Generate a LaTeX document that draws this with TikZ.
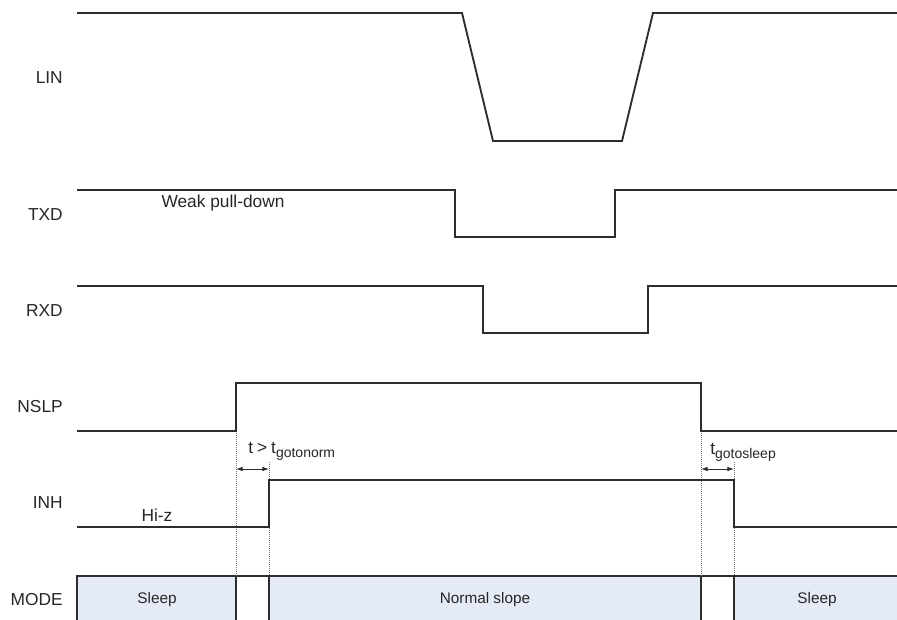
\documentclass[tikz,border=0pt]{standalone}
\usepackage{fontspec}
\setmainfont{Liberation Sans}
\usetikzlibrary{arrows.meta}
\definecolor{modefill}{RGB}{228,235,246}
\definecolor{wire}{RGB}{45,45,45}
\begin{document}
\begin{tikzpicture}[x=0.75pt,y=-0.75pt,
  sig/.style={draw=wire,line width=1.4pt,line join=miter},
  boxline/.style={draw=wire,line width=0.9pt},
  lbl/.style={anchor=east,inner sep=0pt,font=\fontsize{13}{15}\selectfont,text=black!85},
  note/.style={inner sep=0pt,font=\fontsize{13}{15}\selectfont,text=black!85},
  modetxt/.style={inner sep=0pt,font=\fontsize{11.5}{14}\selectfont,text=black!85},
  guide/.style={draw=black!55,densely dotted,line width=0.5pt},
  dimarrow/.style={{Latex[length=5pt,width=3.5pt]}-{Latex[length=5pt,width=3.5pt]},draw=wire,line width=0.7pt}]
\useasboundingbox (0,0) rectangle (897,620);

% MODE row
\fill[modefill] (77,576) rectangle (236,621);
\fill[modefill] (269,576) rectangle (701,621);
\fill[modefill] (734,576) rectangle (898,621);
\draw[boxline] (77,621) -- (77,576) -- (898,576);
\foreach \xx in {236,269,701,734} \draw[boxline] (\xx,576) -- (\xx,621);

% guides
\draw[guide] (236,431) -- (236,576);
\draw[guide] (269,462) -- (269,576);
\draw[guide] (701,431) -- (701,576);
\draw[guide] (734,462) -- (734,576);

% signals
\draw[sig] (77,13) -- (462,13) -- (493,141) -- (622,141) -- (653,13) -- (898,13);
\draw[sig] (77,190) -- (455,190) -- (455,237) -- (615,237) -- (615,190) -- (898,190);
\draw[sig] (77,286) -- (483,286) -- (483,333) -- (648,333) -- (648,286) -- (898,286);
\draw[sig] (77,431) -- (236,431) -- (236,383) -- (701,383) -- (701,431) -- (898,431);
\draw[sig] (77,527) -- (269,527) -- (269,480) -- (734,480) -- (734,527) -- (898,527);

% timing arrows
\coordinate (n1) at (236,469);
\coordinate (n2) at (269,469);
\coordinate (s1) at (701,469);
\coordinate (s2) at (734,469);
\draw[dimarrow] (n1) -- (n2);
\draw[dimarrow] (s1) -- (s2);

% labels
\node[lbl] (lin) at (63,78) {LIN};
\node[lbl] (txd) at (63,215) {TXD};
\node[lbl] (rxd) at (63,311) {RXD};
\node[lbl] (nslp) at (63,407) {NSLP};
\node[lbl] (inh) at (63,503) {INH};
\node[lbl] (mode) at (63,600) {MODE};

\node[note] (weak) at (223,203) {Weak pull-down};
\node[note] (hiz) at (157,515) {Hi-z};
\node[note,anchor=base west] (tnorm) at (248,454) {t\hspace{3pt}>\hspace{3pt}t\raisebox{-0.4ex}{\fontsize{10.5}{11}\selectfont gotonorm}};
\node[note,anchor=base west] (tsleep) at (710,455) {t\raisebox{-0.4ex}{\fontsize{10.5}{11}\selectfont gotosleep}};

\node[modetxt] (m1) at (157,600) {Sleep};
\node[modetxt] (m2) at (485,600) {Normal slope};
\node[modetxt] (m3) at (817,600) {Sleep};
\end{tikzpicture}
\end{document}
